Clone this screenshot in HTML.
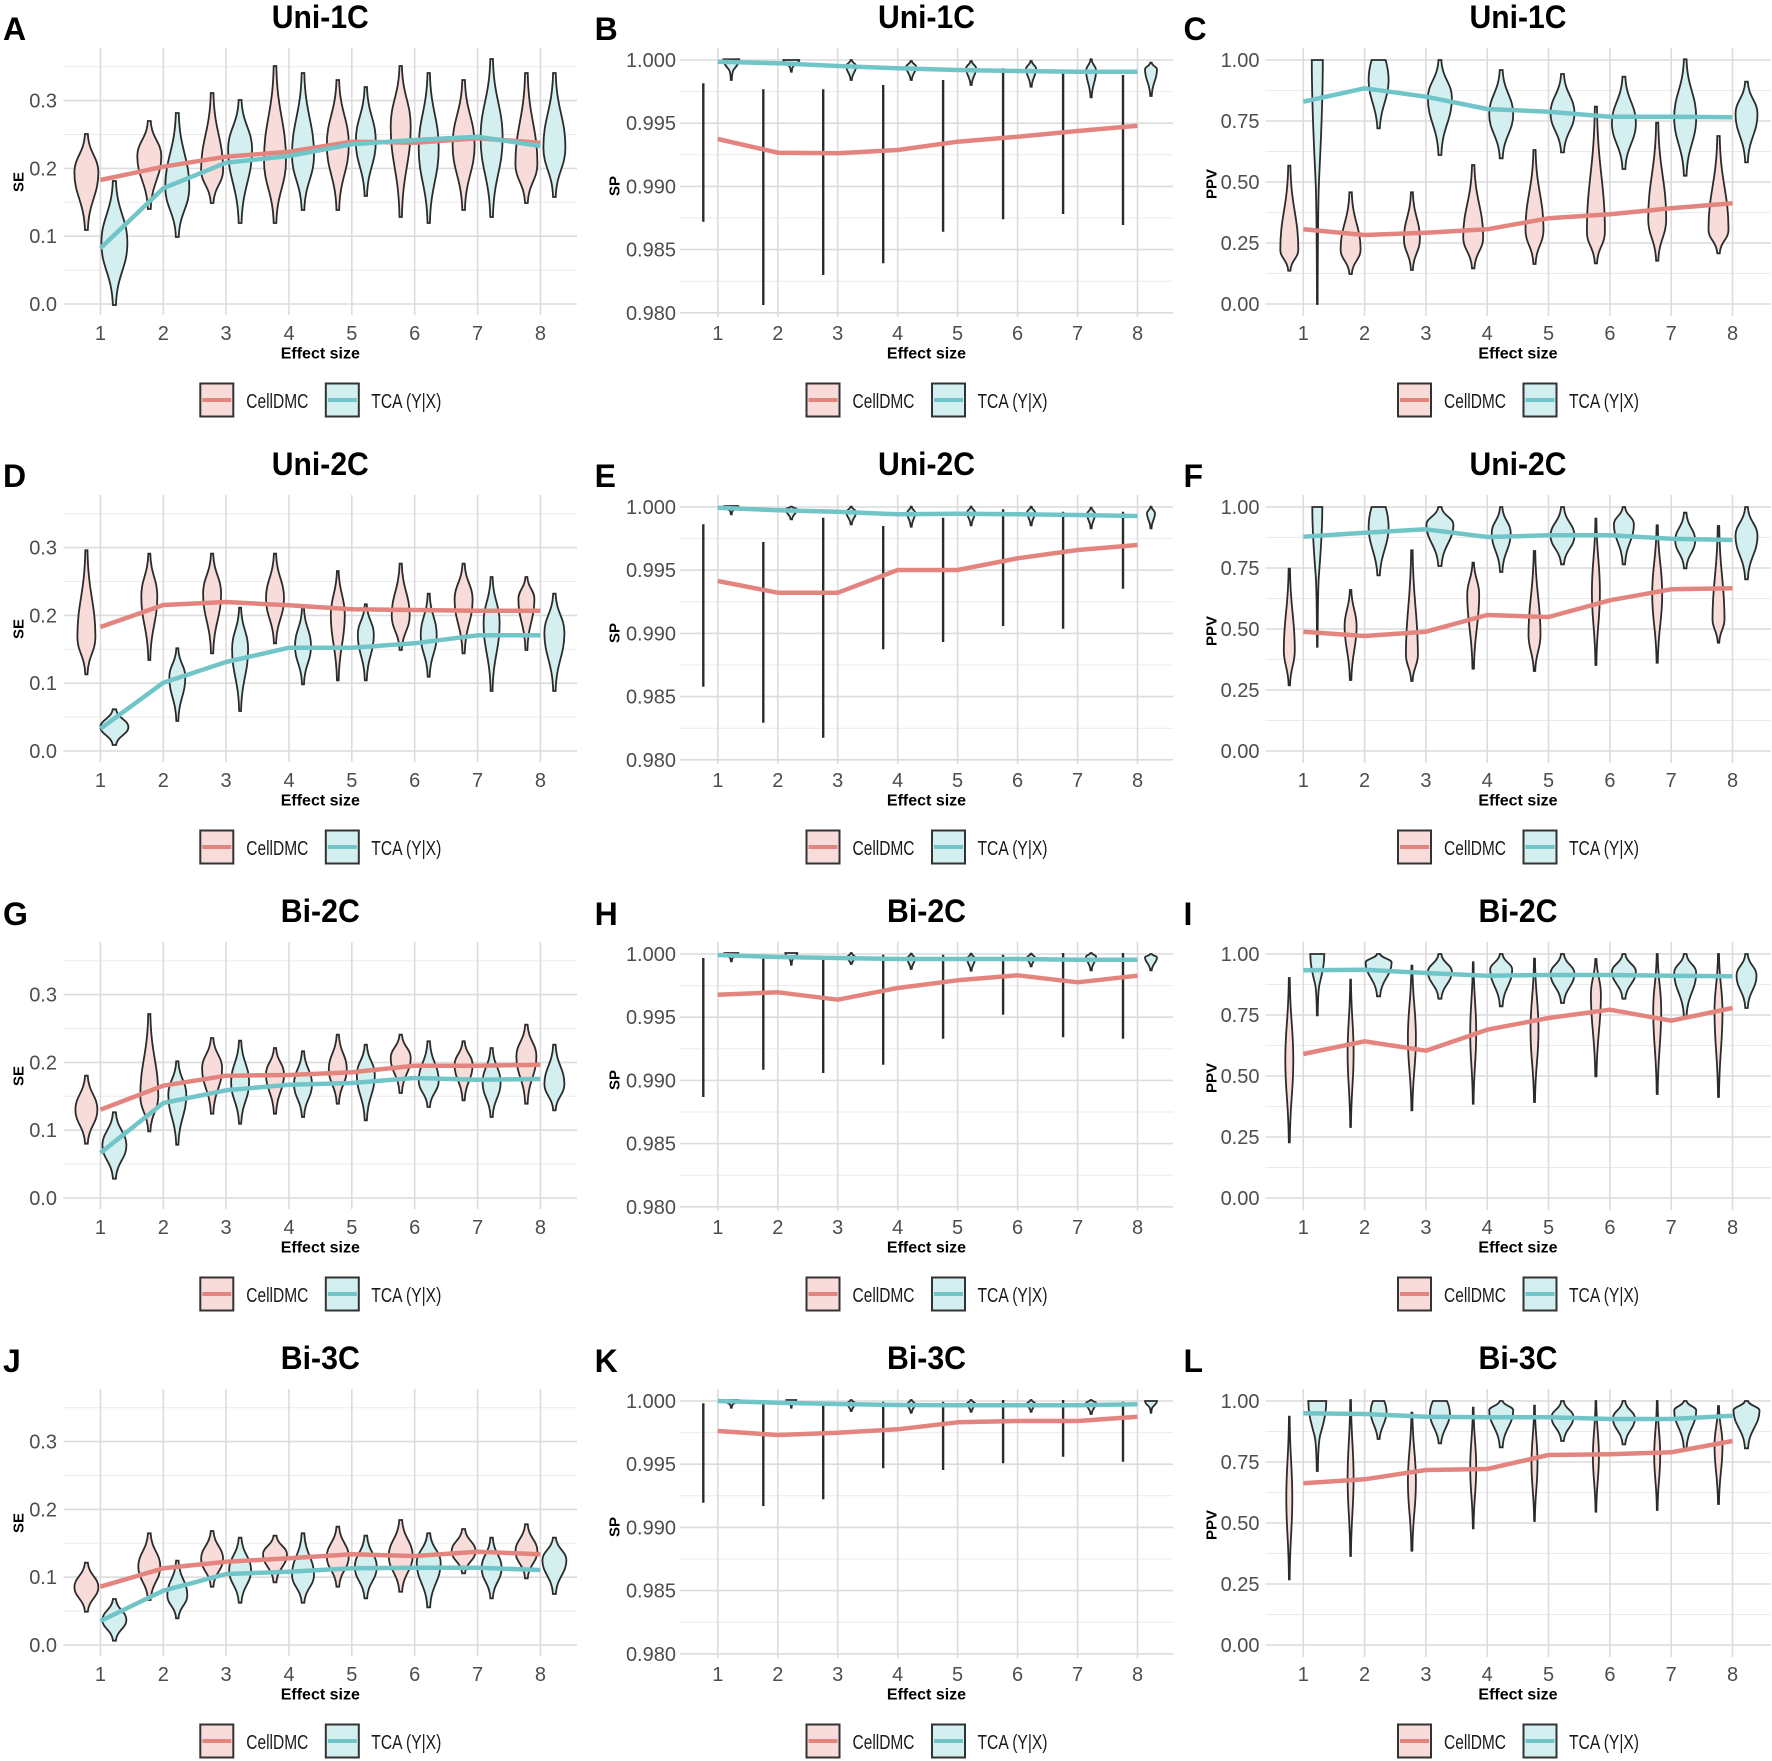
<!DOCTYPE html>
<html><head><meta charset="utf-8"><style>
html,body{margin:0;padding:0;background:#fff}
svg{display:block}
svg text{font-family:"Liberation Sans",Arial,sans-serif}
.mj{stroke:#DCDCDC;stroke-width:1.6;fill:none}
.mn{stroke:#EBEBEB;stroke-width:1;fill:none}
.p{fill:#F8DCDA;stroke:#2B2B2B;stroke-width:1.8}
.c{fill:#D4EFEF;stroke:#2B2B2B;stroke-width:1.8}
.sl{stroke:#2B2B2B;stroke-width:2.4;fill:none}
.lp{fill:none;stroke:#E3857E;stroke-width:4.5;stroke-linejoin:round}
.lc{fill:none;stroke:#71C5C8;stroke-width:4.5;stroke-linejoin:round}
.tk{font-size:20px;fill:#4D4D4D}
.ti{font-size:32px;font-weight:bold;fill:#000}
.lt{font-size:32px;font-weight:bold;fill:#000}
.ax{font-size:15px;font-weight:bold;fill:#000}
.xl{font-size:16px;font-weight:bold;fill:#000}
.lg{font-size:20px;fill:#1A1A1A}
.kp{fill:#F8DCDA;stroke:#333;stroke-width:2}
.kc{fill:#D4EFEF;stroke:#333;stroke-width:2}
.klp{stroke:#E3857E;stroke-width:4;fill:none}
.klc{stroke:#71C5C8;stroke-width:4;fill:none}
</style></head><body>
<svg width="1772" height="1761" viewBox="0 0 1772 1761" xmlns="http://www.w3.org/2000/svg">
<defs>
<path id="s2" vector-effect="non-scaling-stroke" d="M-0.12,0L0.12,0C0.2,0.1 1,0.12 1,0.2C1,0.52 0.2,0.6 0.12,1L-0.12,1C-0.2,0.6 -1,0.52 -1,0.2C-1,0.12 -0.2,0.1 -0.12,0Z"/>
<path id="s3" vector-effect="non-scaling-stroke" d="M-0.12,0L0.12,0C0.2,0.15 1,0.18 1,0.3C1,0.58 0.2,0.65 0.12,1L-0.12,1C-0.2,0.65 -1,0.58 -1,0.3C-1,0.18 -0.2,0.15 -0.12,0Z"/>
<path id="s4" vector-effect="non-scaling-stroke" d="M-0.12,0L0.12,0C0.2,0.2 1,0.24 1,0.4C1,0.64 0.2,0.7 0.12,1L-0.12,1C-0.2,0.7 -1,0.64 -1,0.4C-1,0.24 -0.2,0.2 -0.12,0Z"/>
<path id="s5" vector-effect="non-scaling-stroke" d="M-0.12,0L0.12,0C0.2,0.25 1,0.3 1,0.5C1,0.7 0.2,0.75 0.12,1L-0.12,1C-0.2,0.75 -1,0.7 -1,0.5C-1,0.3 -0.2,0.25 -0.12,0Z"/>
<path id="s6" vector-effect="non-scaling-stroke" d="M-0.12,0L0.12,0C0.2,0.3 1,0.36 1,0.6C1,0.76 0.2,0.8 0.12,1L-0.12,1C-0.2,0.8 -1,0.76 -1,0.6C-1,0.36 -0.2,0.3 -0.12,0Z"/>
<path id="s7" vector-effect="non-scaling-stroke" d="M-0.12,0L0.12,0C0.2,0.35 1,0.42 1,0.7C1,0.82 0.2,0.85 0.12,1L-0.12,1C-0.2,0.85 -1,0.82 -1,0.7C-1,0.42 -0.2,0.35 -0.12,0Z"/>
<path id="s8" vector-effect="non-scaling-stroke" d="M-0.12,0L0.12,0C0.2,0.4 1,0.48 1,0.8C1,0.88 0.2,0.9 0.12,1L-0.12,1C-0.2,0.9 -1,0.88 -1,0.8C-1,0.48 -0.2,0.4 -0.12,0Z"/>
<path id="f" vector-effect="non-scaling-stroke" d="M-1,0L1,0C1,0.2 0.6,0.35 0.3,0.5C0.12,0.6 0.08,0.8 0.06,1L-0.06,1C-0.08,0.8 -0.12,0.6 -0.3,0.5C-0.6,0.35 -1,0.2 -1,0Z"/>
<path id="g" vector-effect="non-scaling-stroke" d="M-0.7,0L0.7,0C0.9,0.1 1,0.2 1,0.3C1,0.55 0.2,0.7 0.12,1L-0.12,1C-0.2,0.7 -1,0.55 -1,0.3C-1,0.2 -0.9,0.1 -0.7,0Z"/>
</defs>
<rect width="1772" height="1761" fill="#fff"/>

<!-- ================= ROW 1 ================= -->
<g transform="translate(0,0)">
<path class="mn" d="M63.6,270.1H577M63.6,202.3H577M63.6,134.5H577M63.6,66.7H577"/>
<path class="mj" d="M63.6,304H577M63.6,236.2H577M63.6,168.4H577M63.6,100.6H577M100.4,48V315M163.3,48V315M226.1,48V315M289,48V315M351.8,48V315M414.7,48V315M477.6,48V315M540.4,48V315"/>
<g class="tk" text-anchor="end"><text x="57" y="311">0.0</text><text x="57" y="243.2">0.1</text><text x="57" y="175.4">0.2</text><text x="57" y="107.6">0.3</text></g>
<g class="tk" text-anchor="middle"><text x="100.4" y="340">1</text><text x="163.3" y="340">2</text><text x="226.1" y="340">3</text><text x="289" y="340">4</text><text x="351.8" y="340">5</text><text x="414.7" y="340">6</text><text x="477.6" y="340">7</text><text x="540.4" y="340">8</text></g>
<text class="ax" text-anchor="middle" transform="translate(23.5,182) rotate(-90)">SE</text>
<text class="xl" x="320.3" y="358.5" text-anchor="middle">Effect size</text>
<text class="ti" x="320.3" y="28" text-anchor="middle" textLength="97" lengthAdjust="spacingAndGlyphs">Uni-1C</text>
<text class="lt" x="3" y="40">A</text>
<rect class="kp" x="200.3" y="383.5" width="33" height="33"/><path class="klp" d="M202.3,400H231.3"/>
<text class="lg" x="246.3" y="408" textLength="62" lengthAdjust="spacingAndGlyphs">CellDMC</text>
<rect class="kc" x="325.8" y="383.5" width="33" height="33"/><path class="klc" d="M327.8,400H356.8"/>
<text class="lg" x="371.3" y="408" textLength="70" lengthAdjust="spacingAndGlyphs">TCA (Y|X)</text>
<path class="mn" d="M680,91.6H1173M680,154.8H1173M680,218H1173M680,281.2H1173"/>
<path class="mj" d="M680,60H1173M680,123.2H1173M680,186.4H1173M680,249.6H1173M680,312.8H1173M717.8,48V317M777.8,48V317M837.7,48V317M897.7,48V317M957.6,48V317M1017.6,48V317M1077.6,48V317M1137.5,48V317"/>
<g class="tk" text-anchor="end"><text x="676" y="67">1.000</text><text x="676" y="130.2">0.995</text><text x="676" y="193.4">0.990</text><text x="676" y="256.6">0.985</text><text x="676" y="319.8">0.980</text></g>
<g class="tk" text-anchor="middle"><text x="717.8" y="340">1</text><text x="777.8" y="340">2</text><text x="837.7" y="340">3</text><text x="897.7" y="340">4</text><text x="957.6" y="340">5</text><text x="1017.6" y="340">6</text><text x="1077.6" y="340">7</text><text x="1137.5" y="340">8</text></g>
<text class="ax" text-anchor="middle" transform="translate(619.5,186) rotate(-90)">SP</text>
<text class="xl" x="926.5" y="358.5" text-anchor="middle">Effect size</text>
<text class="ti" x="926.5" y="28" text-anchor="middle" textLength="97" lengthAdjust="spacingAndGlyphs">Uni-1C</text>
<text class="lt" x="594.6" y="40">B</text>
<rect class="kp" x="806.5" y="383.5" width="33" height="33"/><path class="klp" d="M808.5,400H837.5"/>
<text class="lg" x="852.5" y="408" textLength="62" lengthAdjust="spacingAndGlyphs">CellDMC</text>
<rect class="kc" x="932" y="383.5" width="33" height="33"/><path class="klc" d="M934,400H963"/>
<text class="lg" x="977.5" y="408" textLength="70" lengthAdjust="spacingAndGlyphs">TCA (Y|X)</text>
<path class="mn" d="M1265.5,90.5H1771M1265.5,151.5H1771M1265.5,212.5H1771M1265.5,273.5H1771"/>
<path class="mj" d="M1265.5,60H1771M1265.5,121H1771M1265.5,182H1771M1265.5,243H1771M1265.5,304H1771M1303.3,48V316M1364.6,48V316M1425.9,48V316M1487.2,48V316M1548.5,48V316M1609.9,48V316M1671.2,48V316M1732.5,48V316"/>
<g class="tk" text-anchor="end"><text x="1259.5" y="67">1.00</text><text x="1259.5" y="128">0.75</text><text x="1259.5" y="189">0.50</text><text x="1259.5" y="250">0.25</text><text x="1259.5" y="311">0.00</text></g>
<g class="tk" text-anchor="middle"><text x="1303.3" y="340">1</text><text x="1364.6" y="340">2</text><text x="1425.9" y="340">3</text><text x="1487.2" y="340">4</text><text x="1548.5" y="340">5</text><text x="1609.9" y="340">6</text><text x="1671.2" y="340">7</text><text x="1732.5" y="340">8</text></g>
<text class="ax" text-anchor="middle" transform="translate(1216.5,184) rotate(-90)">PPV</text>
<text class="xl" x="1518" y="358.5" text-anchor="middle">Effect size</text>
<text class="ti" x="1518" y="28" text-anchor="middle" textLength="97" lengthAdjust="spacingAndGlyphs">Uni-1C</text>
<text class="lt" x="1183.5" y="40">C</text>
<rect class="kp" x="1398" y="383.5" width="33" height="33"/><path class="klp" d="M1400,400H1429"/>
<text class="lg" x="1444" y="408" textLength="62" lengthAdjust="spacingAndGlyphs">CellDMC</text>
<rect class="kc" x="1523.5" y="383.5" width="33" height="33"/><path class="klc" d="M1525.5,400H1554.5"/>
<text class="lg" x="1569" y="408" textLength="70" lengthAdjust="spacingAndGlyphs">TCA (Y|X)</text>

<use href="#s4" class="p" transform="translate(86.4,134) scale(12,96)"/>
<use href="#s5" class="c" transform="translate(114.4,181) scale(13,124)"/>
<use href="#s4" class="p" transform="translate(149.3,121) scale(12,88)"/>
<use href="#s6" class="c" transform="translate(177.3,113) scale(12,124)"/>
<use href="#s7" class="p" transform="translate(212.1,93) scale(11,110)"/>
<use href="#s4" class="c" transform="translate(240.1,100) scale(12,123)"/>
<use href="#s6" class="p" transform="translate(275,66) scale(11,157)"/>
<use href="#s6" class="c" transform="translate(303,73) scale(11,137)"/>
<use href="#s5" class="p" transform="translate(337.8,80) scale(11,130)"/>
<use href="#s5" class="c" transform="translate(365.8,87) scale(10,109)"/>
<use href="#s4" class="p" transform="translate(400.7,66) scale(10,151)"/>
<use href="#s5" class="c" transform="translate(428.7,73) scale(10,150)"/>
<use href="#s5" class="p" transform="translate(463.6,80) scale(11,130)"/>
<use href="#s5" class="c" transform="translate(491.6,59) scale(11,158)"/>
<use href="#s7" class="p" transform="translate(526.4,73) scale(11,130)"/>
<use href="#s6" class="c" transform="translate(554.4,73) scale(11,124)"/>
<polyline class="lp" points="100.4,180 163.3,166.7 226.1,156.7 289,151.7 351.8,141.7 414.7,142.7 477.6,138.3 540.4,142.7"/>
<polyline class="lc" points="100.4,248.3 163.3,188.3 226.1,162.7 289,156 351.8,144.3 414.7,140 477.6,136.7 540.4,146"/>
<path class="sl" d="M703.3,83.3V221.7M763.3,89.3V305M823.2,89.3V275M883.2,85V263.3M943.1,80V231.7M1003.1,68.3V219.3M1063.1,71.7V214M1123,75V225"/>
<use href="#f" class="c" transform="translate(731.3,59.3) scale(8,20.7)"/>
<use href="#f" class="c" transform="translate(791.3,60) scale(8,11.7)"/>
<use href="#s3" class="c" transform="translate(851.2,60) scale(5,20)"/>
<use href="#s3" class="c" transform="translate(911.2,61) scale(5,19)"/>
<use href="#s3" class="c" transform="translate(971.1,61) scale(5,24)"/>
<use href="#s3" class="c" transform="translate(1031.1,61) scale(5,25.7)"/>
<use href="#s3" class="c" transform="translate(1091.1,59.3) scale(5,38)"/>
<use href="#s2" class="c" transform="translate(1151,62.7) scale(6,33.3)"/>
<polyline class="lp" points="717.8,139 777.8,152.7 837.7,153.3 897.7,150 957.6,141.7 1017.6,136.7 1077.6,131 1137.5,125.7"/>
<polyline class="lc" points="717.8,61.7 777.8,63.3 837.7,66 897.7,68.3 957.6,70 1017.6,71 1077.6,71.7 1137.5,71.7"/>
<use href="#f" class="c" transform="translate(1317.3,60) scale(5.5,244)"/>
<use href="#g" class="c" transform="translate(1378.6,60) scale(10,68.3)"/>
<use href="#s4" class="c" transform="translate(1439.9,60) scale(12,95)"/>
<use href="#s5" class="c" transform="translate(1501.2,70) scale(12,88.3)"/>
<use href="#s5" class="c" transform="translate(1562.5,74) scale(12,78.3)"/>
<use href="#s5" class="c" transform="translate(1623.9,76.7) scale(12,92.3)"/>
<use href="#s5" class="c" transform="translate(1685.2,59.3) scale(11,116.4)"/>
<use href="#s4" class="c" transform="translate(1746.5,81.7) scale(11,80.6)"/>
<use href="#s8" class="p" transform="translate(1289.3,165.7) scale(9,105)"/>
<use href="#s7" class="p" transform="translate(1350.6,192.3) scale(10,81.7)"/>
<use href="#s6" class="p" transform="translate(1411.9,192.3) scale(8,77.7)"/>
<use href="#s7" class="p" transform="translate(1473.2,165) scale(10,103.3)"/>
<use href="#s7" class="p" transform="translate(1534.5,150) scale(9,114)"/>
<use href="#s8" class="p" transform="translate(1595.9,106.7) scale(9,156.6)"/>
<use href="#s7" class="p" transform="translate(1657.2,122.7) scale(9,138)"/>
<use href="#s8" class="p" transform="translate(1718.5,136) scale(10,117.3)"/>
<polyline class="lp" points="1303.3,229.3 1364.6,235 1425.9,232.7 1487.2,229.3 1548.5,218.3 1609.9,214.3 1671.2,208.3 1732.5,203.3"/>
<polyline class="lc" points="1303.3,101.7 1364.6,88.3 1425.9,96.7 1487.2,109 1548.5,111.7 1609.9,116.7 1671.2,116.7 1732.5,117.3"/>
</g>

<!-- ================= ROW 2 ================= -->
<g transform="translate(0,447)">
<path class="mn" d="M63.6,270.1H577M63.6,202.3H577M63.6,134.5H577M63.6,66.7H577"/>
<path class="mj" d="M63.6,304H577M63.6,236.2H577M63.6,168.4H577M63.6,100.6H577M100.4,48V315M163.3,48V315M226.1,48V315M289,48V315M351.8,48V315M414.7,48V315M477.6,48V315M540.4,48V315"/>
<g class="tk" text-anchor="end"><text x="57" y="311">0.0</text><text x="57" y="243.2">0.1</text><text x="57" y="175.4">0.2</text><text x="57" y="107.6">0.3</text></g>
<g class="tk" text-anchor="middle"><text x="100.4" y="340">1</text><text x="163.3" y="340">2</text><text x="226.1" y="340">3</text><text x="289" y="340">4</text><text x="351.8" y="340">5</text><text x="414.7" y="340">6</text><text x="477.6" y="340">7</text><text x="540.4" y="340">8</text></g>
<text class="ax" text-anchor="middle" transform="translate(23.5,182) rotate(-90)">SE</text>
<text class="xl" x="320.3" y="358.5" text-anchor="middle">Effect size</text>
<text class="ti" x="320.3" y="28" text-anchor="middle" textLength="97" lengthAdjust="spacingAndGlyphs">Uni-2C</text>
<text class="lt" x="3" y="40">D</text>
<rect class="kp" x="200.3" y="383.5" width="33" height="33"/><path class="klp" d="M202.3,400H231.3"/>
<text class="lg" x="246.3" y="408" textLength="62" lengthAdjust="spacingAndGlyphs">CellDMC</text>
<rect class="kc" x="325.8" y="383.5" width="33" height="33"/><path class="klc" d="M327.8,400H356.8"/>
<text class="lg" x="371.3" y="408" textLength="70" lengthAdjust="spacingAndGlyphs">TCA (Y|X)</text>
<path class="mn" d="M680,91.6H1173M680,154.8H1173M680,218H1173M680,281.2H1173"/>
<path class="mj" d="M680,60H1173M680,123.2H1173M680,186.4H1173M680,249.6H1173M680,312.8H1173M717.8,48V317M777.8,48V317M837.7,48V317M897.7,48V317M957.6,48V317M1017.6,48V317M1077.6,48V317M1137.5,48V317"/>
<g class="tk" text-anchor="end"><text x="676" y="67">1.000</text><text x="676" y="130.2">0.995</text><text x="676" y="193.4">0.990</text><text x="676" y="256.6">0.985</text><text x="676" y="319.8">0.980</text></g>
<g class="tk" text-anchor="middle"><text x="717.8" y="340">1</text><text x="777.8" y="340">2</text><text x="837.7" y="340">3</text><text x="897.7" y="340">4</text><text x="957.6" y="340">5</text><text x="1017.6" y="340">6</text><text x="1077.6" y="340">7</text><text x="1137.5" y="340">8</text></g>
<text class="ax" text-anchor="middle" transform="translate(619.5,186) rotate(-90)">SP</text>
<text class="xl" x="926.5" y="358.5" text-anchor="middle">Effect size</text>
<text class="ti" x="926.5" y="28" text-anchor="middle" textLength="97" lengthAdjust="spacingAndGlyphs">Uni-2C</text>
<text class="lt" x="594.6" y="40">E</text>
<rect class="kp" x="806.5" y="383.5" width="33" height="33"/><path class="klp" d="M808.5,400H837.5"/>
<text class="lg" x="852.5" y="408" textLength="62" lengthAdjust="spacingAndGlyphs">CellDMC</text>
<rect class="kc" x="932" y="383.5" width="33" height="33"/><path class="klc" d="M934,400H963"/>
<text class="lg" x="977.5" y="408" textLength="70" lengthAdjust="spacingAndGlyphs">TCA (Y|X)</text>
<path class="mn" d="M1265.5,90.5H1771M1265.5,151.5H1771M1265.5,212.5H1771M1265.5,273.5H1771"/>
<path class="mj" d="M1265.5,60H1771M1265.5,121H1771M1265.5,182H1771M1265.5,243H1771M1265.5,304H1771M1303.3,48V316M1364.6,48V316M1425.9,48V316M1487.2,48V316M1548.5,48V316M1609.9,48V316M1671.2,48V316M1732.5,48V316"/>
<g class="tk" text-anchor="end"><text x="1259.5" y="67">1.00</text><text x="1259.5" y="128">0.75</text><text x="1259.5" y="189">0.50</text><text x="1259.5" y="250">0.25</text><text x="1259.5" y="311">0.00</text></g>
<g class="tk" text-anchor="middle"><text x="1303.3" y="340">1</text><text x="1364.6" y="340">2</text><text x="1425.9" y="340">3</text><text x="1487.2" y="340">4</text><text x="1548.5" y="340">5</text><text x="1609.9" y="340">6</text><text x="1671.2" y="340">7</text><text x="1732.5" y="340">8</text></g>
<text class="ax" text-anchor="middle" transform="translate(1216.5,184) rotate(-90)">PPV</text>
<text class="xl" x="1518" y="358.5" text-anchor="middle">Effect size</text>
<text class="ti" x="1518" y="28" text-anchor="middle" textLength="97" lengthAdjust="spacingAndGlyphs">Uni-2C</text>
<text class="lt" x="1183.5" y="40">F</text>
<rect class="kp" x="1398" y="383.5" width="33" height="33"/><path class="klp" d="M1400,400H1429"/>
<text class="lg" x="1444" y="408" textLength="62" lengthAdjust="spacingAndGlyphs">CellDMC</text>
<rect class="kc" x="1523.5" y="383.5" width="33" height="33"/><path class="klc" d="M1525.5,400H1554.5"/>
<text class="lg" x="1569" y="408" textLength="70" lengthAdjust="spacingAndGlyphs">TCA (Y|X)</text>

<use href="#s7" class="p" transform="translate(86.4,103.3) scale(9,124)"/>
<use href="#s5" class="c" transform="translate(114.4,262.3) scale(14,35.7)"/>
<use href="#s4" class="p" transform="translate(149.3,106.7) scale(8,106.3)"/>
<use href="#s4" class="c" transform="translate(177.3,201.3) scale(8,72.7)"/>
<use href="#s4" class="p" transform="translate(212.1,106.7) scale(9,99.6)"/>
<use href="#s4" class="c" transform="translate(240.1,160.7) scale(8,103.3)"/>
<use href="#s5" class="p" transform="translate(275,106.7) scale(9,89.6)"/>
<use href="#s5" class="c" transform="translate(303,160.7) scale(8,76.6)"/>
<use href="#s4" class="p" transform="translate(337.8,124) scale(7,109.3)"/>
<use href="#s4" class="c" transform="translate(365.8,157.3) scale(8,76)"/>
<use href="#s6" class="p" transform="translate(400.7,116.7) scale(9,86.3)"/>
<use href="#s5" class="c" transform="translate(428.7,146.7) scale(8,83)"/>
<use href="#s4" class="p" transform="translate(463.6,116.7) scale(9,89.6)"/>
<use href="#s4" class="c" transform="translate(491.6,130) scale(8,114)"/>
<use href="#s3" class="p" transform="translate(526.4,130) scale(8,73)"/>
<use href="#s4" class="c" transform="translate(554.4,146.7) scale(10,97.3)"/>
<polyline class="lp" points="100.4,180 163.3,158 226.1,155 289,158.3 351.8,162.3 414.7,163 477.6,163.7 540.4,163.7"/>
<polyline class="lc" points="100.4,281.7 163.3,235.7 226.1,215 289,200.7 351.8,200.7 414.7,196.3 477.6,188.3 540.4,188.3"/>
<path class="sl" d="M703.3,77.3V239.7M763.3,95V275.7M823.2,70.7V290.7M883.2,79V202.3M943.1,70.7V195M1003.1,62.3V179M1063.1,64.7V181.7M1123,64.7V141.7"/>
<use href="#f" class="c" transform="translate(731.3,59) scale(7,8.3)"/>
<use href="#s2" class="c" transform="translate(791.3,59.7) scale(6,12.6)"/>
<use href="#s3" class="c" transform="translate(851.2,59.7) scale(5,17.6)"/>
<use href="#s3" class="c" transform="translate(911.2,59.7) scale(4,20)"/>
<use href="#s3" class="c" transform="translate(971.1,59.7) scale(4,18.6)"/>
<use href="#s3" class="c" transform="translate(1031.1,59.7) scale(4,18.6)"/>
<use href="#s3" class="c" transform="translate(1091.1,60.7) scale(4,20.6)"/>
<use href="#s3" class="c" transform="translate(1151,59.7) scale(4,21.6)"/>
<polyline class="lp" points="717.8,134 777.8,145.7 837.7,145.7 897.7,123 957.6,123 1017.6,111.3 1077.6,103 1137.5,98"/>
<polyline class="lc" points="717.8,60.7 777.8,63.3 837.7,64.7 897.7,67.3 957.6,66.7 1017.6,67.3 1077.6,68 1137.5,69"/>
<use href="#f" class="c" transform="translate(1317.3,60) scale(5,139.7)"/>
<use href="#g" class="c" transform="translate(1378.6,60) scale(10,68.3)"/>
<use href="#s3" class="c" transform="translate(1439.9,60) scale(13.5,59)"/>
<use href="#s4" class="c" transform="translate(1501.2,60) scale(9.5,65)"/>
<use href="#s5" class="c" transform="translate(1562.5,60) scale(12,57.3)"/>
<use href="#s3" class="c" transform="translate(1623.9,60) scale(10,57.3)"/>
<use href="#s5" class="c" transform="translate(1685.2,65.7) scale(10,55.6)"/>
<use href="#s4" class="c" transform="translate(1746.5,60) scale(11,72.3)"/>
<use href="#s7" class="p" transform="translate(1289.3,121.7) scale(5.5,116.6)"/>
<use href="#s4" class="p" transform="translate(1350.6,143) scale(6,90)"/>
<use href="#s8" class="p" transform="translate(1411.9,103.3) scale(6,130.7)"/>
<use href="#s3" class="p" transform="translate(1473.2,115.7) scale(6,106)"/>
<use href="#s7" class="p" transform="translate(1534.5,104) scale(6,120)"/>
<use href="#s5" class="p" transform="translate(1595.9,71.7) scale(4,146.3)"/>
<use href="#s5" class="p" transform="translate(1657.2,78.3) scale(5,137.4)"/>
<use href="#s8" class="p" transform="translate(1718.5,79) scale(6,116.7)"/>
<polyline class="lp" points="1303.3,184.7 1364.6,189 1425.9,184.7 1487.2,168 1548.5,170 1609.9,153.3 1671.2,142.3 1732.5,141.3"/>
<polyline class="lc" points="1303.3,89.7 1364.6,85.7 1425.9,82.3 1487.2,90 1548.5,88.3 1609.9,88.3 1671.2,91.7 1732.5,93"/>
</g>

<!-- ================= ROW 3 ================= -->
<g transform="translate(0,894)">
<path class="mn" d="M63.6,270.1H577M63.6,202.3H577M63.6,134.5H577M63.6,66.7H577"/>
<path class="mj" d="M63.6,304H577M63.6,236.2H577M63.6,168.4H577M63.6,100.6H577M100.4,48V315M163.3,48V315M226.1,48V315M289,48V315M351.8,48V315M414.7,48V315M477.6,48V315M540.4,48V315"/>
<g class="tk" text-anchor="end"><text x="57" y="311">0.0</text><text x="57" y="243.2">0.1</text><text x="57" y="175.4">0.2</text><text x="57" y="107.6">0.3</text></g>
<g class="tk" text-anchor="middle"><text x="100.4" y="340">1</text><text x="163.3" y="340">2</text><text x="226.1" y="340">3</text><text x="289" y="340">4</text><text x="351.8" y="340">5</text><text x="414.7" y="340">6</text><text x="477.6" y="340">7</text><text x="540.4" y="340">8</text></g>
<text class="ax" text-anchor="middle" transform="translate(23.5,182) rotate(-90)">SE</text>
<text class="xl" x="320.3" y="358.5" text-anchor="middle">Effect size</text>
<text class="ti" x="320.3" y="28" text-anchor="middle" textLength="79" lengthAdjust="spacingAndGlyphs">Bi-2C</text>
<text class="lt" x="3" y="31">G</text>
<rect class="kp" x="200.3" y="383.5" width="33" height="33"/><path class="klp" d="M202.3,400H231.3"/>
<text class="lg" x="246.3" y="408" textLength="62" lengthAdjust="spacingAndGlyphs">CellDMC</text>
<rect class="kc" x="325.8" y="383.5" width="33" height="33"/><path class="klc" d="M327.8,400H356.8"/>
<text class="lg" x="371.3" y="408" textLength="70" lengthAdjust="spacingAndGlyphs">TCA (Y|X)</text>
<path class="mn" d="M680,91.6H1173M680,154.8H1173M680,218H1173M680,281.2H1173"/>
<path class="mj" d="M680,60H1173M680,123.2H1173M680,186.4H1173M680,249.6H1173M680,312.8H1173M717.8,48V317M777.8,48V317M837.7,48V317M897.7,48V317M957.6,48V317M1017.6,48V317M1077.6,48V317M1137.5,48V317"/>
<g class="tk" text-anchor="end"><text x="676" y="67">1.000</text><text x="676" y="130.2">0.995</text><text x="676" y="193.4">0.990</text><text x="676" y="256.6">0.985</text><text x="676" y="319.8">0.980</text></g>
<g class="tk" text-anchor="middle"><text x="717.8" y="340">1</text><text x="777.8" y="340">2</text><text x="837.7" y="340">3</text><text x="897.7" y="340">4</text><text x="957.6" y="340">5</text><text x="1017.6" y="340">6</text><text x="1077.6" y="340">7</text><text x="1137.5" y="340">8</text></g>
<text class="ax" text-anchor="middle" transform="translate(619.5,186) rotate(-90)">SP</text>
<text class="xl" x="926.5" y="358.5" text-anchor="middle">Effect size</text>
<text class="ti" x="926.5" y="28" text-anchor="middle" textLength="79" lengthAdjust="spacingAndGlyphs">Bi-2C</text>
<text class="lt" x="594.6" y="31">H</text>
<rect class="kp" x="806.5" y="383.5" width="33" height="33"/><path class="klp" d="M808.5,400H837.5"/>
<text class="lg" x="852.5" y="408" textLength="62" lengthAdjust="spacingAndGlyphs">CellDMC</text>
<rect class="kc" x="932" y="383.5" width="33" height="33"/><path class="klc" d="M934,400H963"/>
<text class="lg" x="977.5" y="408" textLength="70" lengthAdjust="spacingAndGlyphs">TCA (Y|X)</text>
<path class="mn" d="M1265.5,90.5H1771M1265.5,151.5H1771M1265.5,212.5H1771M1265.5,273.5H1771"/>
<path class="mj" d="M1265.5,60H1771M1265.5,121H1771M1265.5,182H1771M1265.5,243H1771M1265.5,304H1771M1303.3,48V316M1364.6,48V316M1425.9,48V316M1487.2,48V316M1548.5,48V316M1609.9,48V316M1671.2,48V316M1732.5,48V316"/>
<g class="tk" text-anchor="end"><text x="1259.5" y="67">1.00</text><text x="1259.5" y="128">0.75</text><text x="1259.5" y="189">0.50</text><text x="1259.5" y="250">0.25</text><text x="1259.5" y="311">0.00</text></g>
<g class="tk" text-anchor="middle"><text x="1303.3" y="340">1</text><text x="1364.6" y="340">2</text><text x="1425.9" y="340">3</text><text x="1487.2" y="340">4</text><text x="1548.5" y="340">5</text><text x="1609.9" y="340">6</text><text x="1671.2" y="340">7</text><text x="1732.5" y="340">8</text></g>
<text class="ax" text-anchor="middle" transform="translate(1216.5,184) rotate(-90)">PPV</text>
<text class="xl" x="1518" y="358.5" text-anchor="middle">Effect size</text>
<text class="ti" x="1518" y="28" text-anchor="middle" textLength="79" lengthAdjust="spacingAndGlyphs">Bi-2C</text>
<text class="lt" x="1183.5" y="31">I</text>
<rect class="kp" x="1398" y="383.5" width="33" height="33"/><path class="klp" d="M1400,400H1429"/>
<text class="lg" x="1444" y="408" textLength="62" lengthAdjust="spacingAndGlyphs">CellDMC</text>
<rect class="kc" x="1523.5" y="383.5" width="33" height="33"/><path class="klc" d="M1525.5,400H1554.5"/>
<text class="lg" x="1569" y="408" textLength="70" lengthAdjust="spacingAndGlyphs">TCA (Y|X)</text>

<use href="#s5" class="p" transform="translate(86.4,181.7) scale(11,68)"/>
<use href="#s5" class="c" transform="translate(114.4,218.3) scale(12,66.4)"/>
<use href="#s7" class="p" transform="translate(149.3,120) scale(9,117.3)"/>
<use href="#s4" class="c" transform="translate(177.3,167.3) scale(9,83.4)"/>
<use href="#s4" class="p" transform="translate(212.1,144) scale(10,75.7)"/>
<use href="#s5" class="c" transform="translate(240.1,146.7) scale(9,83)"/>
<use href="#s4" class="p" transform="translate(275,154) scale(9,65.7)"/>
<use href="#s5" class="c" transform="translate(303,157.3) scale(9,65.7)"/>
<use href="#s5" class="p" transform="translate(337.8,140.7) scale(9,69)"/>
<use href="#s4" class="c" transform="translate(365.8,150.7) scale(9,75.6)"/>
<use href="#s4" class="p" transform="translate(400.7,140.7) scale(10,58.3)"/>
<use href="#s6" class="c" transform="translate(428.7,147.3) scale(10,65.7)"/>
<use href="#s4" class="p" transform="translate(463.6,147.3) scale(9,59)"/>
<use href="#s5" class="c" transform="translate(491.6,154) scale(9,69)"/>
<use href="#s4" class="p" transform="translate(526.4,130.7) scale(10,79)"/>
<use href="#s6" class="c" transform="translate(554.4,150.7) scale(10,65.6)"/>
<polyline class="lp" points="100.4,215.7 163.3,191.7 226.1,181.7 289,181 351.8,178.3 414.7,171.7 477.6,171.7 540.4,170.7"/>
<polyline class="lc" points="100.4,259 163.3,209 226.1,196.3 289,190.7 351.8,189 414.7,184 477.6,185.7 540.4,185"/>
<path class="sl" d="M703.3,64V203M763.3,63V175.7M823.2,62.3V179M883.2,60.7V170.7M943.1,60.7V144.7M1003.1,60.7V120.7M1063.1,59V143.3M1123,59V144.7"/>
<use href="#f" class="c" transform="translate(731.3,59) scale(7,8.3)"/>
<use href="#f" class="c" transform="translate(791.3,59) scale(6,11.7)"/>
<use href="#s4" class="c" transform="translate(851.2,59) scale(4,11)"/>
<use href="#s3" class="c" transform="translate(911.2,59.7) scale(4,15.3)"/>
<use href="#s3" class="c" transform="translate(971.1,59.7) scale(4,17)"/>
<use href="#s3" class="c" transform="translate(1031.1,59.7) scale(4,12.6)"/>
<use href="#s2" class="c" transform="translate(1091.1,59) scale(5,17.3)"/>
<use href="#s2" class="c" transform="translate(1151,60) scale(6,16.3)"/>
<polyline class="lp" points="717.8,100.7 777.8,98.3 837.7,105.7 897.7,94 957.6,86.3 1017.6,81.3 1077.6,88.3 1137.5,81.7"/>
<polyline class="lc" points="717.8,61 777.8,63 837.7,64 897.7,65 957.6,65 1017.6,65 1077.6,65.7 1137.5,65.7"/>
<use href="#f" class="c" transform="translate(1317.3,60) scale(7,61.3)"/>
<use href="#s2" class="c" transform="translate(1378.6,60) scale(13,42.3)"/>
<use href="#s4" class="c" transform="translate(1439.9,60) scale(12,44.7)"/>
<use href="#s3" class="c" transform="translate(1501.2,60) scale(11,52.3)"/>
<use href="#s4" class="c" transform="translate(1562.5,60) scale(12,49)"/>
<use href="#s4" class="c" transform="translate(1623.9,60) scale(12,44.7)"/>
<use href="#s3" class="c" transform="translate(1685.2,60) scale(11,62.3)"/>
<use href="#s4" class="c" transform="translate(1746.5,60) scale(10,54)"/>
<use href="#s5" class="p" transform="translate(1289.3,84) scale(4,164.3)"/>
<use href="#s5" class="p" transform="translate(1350.6,85.7) scale(3,147.3)"/>
<use href="#s5" class="p" transform="translate(1411.9,71.7) scale(4,144.6)"/>
<use href="#s5" class="p" transform="translate(1473.2,68.3) scale(3,141.4)"/>
<use href="#s5" class="p" transform="translate(1534.5,64.7) scale(4,143.3)"/>
<use href="#s3" class="p" transform="translate(1595.9,65) scale(5,117.3)"/>
<use href="#s4" class="p" transform="translate(1657.2,60) scale(4,140)"/>
<use href="#s4" class="p" transform="translate(1718.5,60) scale(4,143)"/>
<polyline class="lp" points="1303.3,160 1364.6,147.3 1425.9,156.7 1487.2,135.7 1548.5,124 1609.9,115.7 1671.2,126.7 1732.5,114"/>
<polyline class="lc" points="1303.3,76.3 1364.6,75.7 1425.9,79 1487.2,81.7 1548.5,81 1609.9,81 1671.2,81.7 1732.5,82.3"/>
</g>

<!-- ================= ROW 4 ================= -->
<g transform="translate(0,1341)">
<path class="mn" d="M63.6,270.1H577M63.6,202.3H577M63.6,134.5H577M63.6,66.7H577"/>
<path class="mj" d="M63.6,304H577M63.6,236.2H577M63.6,168.4H577M63.6,100.6H577M100.4,48V315M163.3,48V315M226.1,48V315M289,48V315M351.8,48V315M414.7,48V315M477.6,48V315M540.4,48V315"/>
<g class="tk" text-anchor="end"><text x="57" y="311">0.0</text><text x="57" y="243.2">0.1</text><text x="57" y="175.4">0.2</text><text x="57" y="107.6">0.3</text></g>
<g class="tk" text-anchor="middle"><text x="100.4" y="340">1</text><text x="163.3" y="340">2</text><text x="226.1" y="340">3</text><text x="289" y="340">4</text><text x="351.8" y="340">5</text><text x="414.7" y="340">6</text><text x="477.6" y="340">7</text><text x="540.4" y="340">8</text></g>
<text class="ax" text-anchor="middle" transform="translate(23.5,182) rotate(-90)">SE</text>
<text class="xl" x="320.3" y="358.5" text-anchor="middle">Effect size</text>
<text class="ti" x="320.3" y="28" text-anchor="middle" textLength="79" lengthAdjust="spacingAndGlyphs">Bi-3C</text>
<text class="lt" x="3" y="31">J</text>
<rect class="kp" x="200.3" y="383.5" width="33" height="33"/><path class="klp" d="M202.3,400H231.3"/>
<text class="lg" x="246.3" y="408" textLength="62" lengthAdjust="spacingAndGlyphs">CellDMC</text>
<rect class="kc" x="325.8" y="383.5" width="33" height="33"/><path class="klc" d="M327.8,400H356.8"/>
<text class="lg" x="371.3" y="408" textLength="70" lengthAdjust="spacingAndGlyphs">TCA (Y|X)</text>
<path class="mn" d="M680,91.6H1173M680,154.8H1173M680,218H1173M680,281.2H1173"/>
<path class="mj" d="M680,60H1173M680,123.2H1173M680,186.4H1173M680,249.6H1173M680,312.8H1173M717.8,48V317M777.8,48V317M837.7,48V317M897.7,48V317M957.6,48V317M1017.6,48V317M1077.6,48V317M1137.5,48V317"/>
<g class="tk" text-anchor="end"><text x="676" y="67">1.000</text><text x="676" y="130.2">0.995</text><text x="676" y="193.4">0.990</text><text x="676" y="256.6">0.985</text><text x="676" y="319.8">0.980</text></g>
<g class="tk" text-anchor="middle"><text x="717.8" y="340">1</text><text x="777.8" y="340">2</text><text x="837.7" y="340">3</text><text x="897.7" y="340">4</text><text x="957.6" y="340">5</text><text x="1017.6" y="340">6</text><text x="1077.6" y="340">7</text><text x="1137.5" y="340">8</text></g>
<text class="ax" text-anchor="middle" transform="translate(619.5,186) rotate(-90)">SP</text>
<text class="xl" x="926.5" y="358.5" text-anchor="middle">Effect size</text>
<text class="ti" x="926.5" y="28" text-anchor="middle" textLength="79" lengthAdjust="spacingAndGlyphs">Bi-3C</text>
<text class="lt" x="594.6" y="31">K</text>
<rect class="kp" x="806.5" y="383.5" width="33" height="33"/><path class="klp" d="M808.5,400H837.5"/>
<text class="lg" x="852.5" y="408" textLength="62" lengthAdjust="spacingAndGlyphs">CellDMC</text>
<rect class="kc" x="932" y="383.5" width="33" height="33"/><path class="klc" d="M934,400H963"/>
<text class="lg" x="977.5" y="408" textLength="70" lengthAdjust="spacingAndGlyphs">TCA (Y|X)</text>
<path class="mn" d="M1265.5,90.5H1771M1265.5,151.5H1771M1265.5,212.5H1771M1265.5,273.5H1771"/>
<path class="mj" d="M1265.5,60H1771M1265.5,121H1771M1265.5,182H1771M1265.5,243H1771M1265.5,304H1771M1303.3,48V316M1364.6,48V316M1425.9,48V316M1487.2,48V316M1548.5,48V316M1609.9,48V316M1671.2,48V316M1732.5,48V316"/>
<g class="tk" text-anchor="end"><text x="1259.5" y="67">1.00</text><text x="1259.5" y="128">0.75</text><text x="1259.5" y="189">0.50</text><text x="1259.5" y="250">0.25</text><text x="1259.5" y="311">0.00</text></g>
<g class="tk" text-anchor="middle"><text x="1303.3" y="340">1</text><text x="1364.6" y="340">2</text><text x="1425.9" y="340">3</text><text x="1487.2" y="340">4</text><text x="1548.5" y="340">5</text><text x="1609.9" y="340">6</text><text x="1671.2" y="340">7</text><text x="1732.5" y="340">8</text></g>
<text class="ax" text-anchor="middle" transform="translate(1216.5,184) rotate(-90)">PPV</text>
<text class="xl" x="1518" y="358.5" text-anchor="middle">Effect size</text>
<text class="ti" x="1518" y="28" text-anchor="middle" textLength="79" lengthAdjust="spacingAndGlyphs">Bi-3C</text>
<text class="lt" x="1183.5" y="31">L</text>
<rect class="kp" x="1398" y="383.5" width="33" height="33"/><path class="klp" d="M1400,400H1429"/>
<text class="lg" x="1444" y="408" textLength="62" lengthAdjust="spacingAndGlyphs">CellDMC</text>
<rect class="kc" x="1523.5" y="383.5" width="33" height="33"/><path class="klc" d="M1525.5,400H1554.5"/>
<text class="lg" x="1569" y="408" textLength="70" lengthAdjust="spacingAndGlyphs">TCA (Y|X)</text>

<use href="#s5" class="p" transform="translate(86.4,221.7) scale(12,49)"/>
<use href="#s5" class="c" transform="translate(114.4,258) scale(12,41.7)"/>
<use href="#s5" class="p" transform="translate(149.3,192.3) scale(11,66.7)"/>
<use href="#s6" class="c" transform="translate(177.3,219.7) scale(10,57.6)"/>
<use href="#s5" class="p" transform="translate(212.1,190) scale(11,55.7)"/>
<use href="#s5" class="c" transform="translate(240.1,196.7) scale(11,65)"/>
<use href="#s4" class="p" transform="translate(275,194.7) scale(12,46.6)"/>
<use href="#s6" class="c" transform="translate(303,192.3) scale(11,69.4)"/>
<use href="#s5" class="p" transform="translate(337.8,185.7) scale(11,60)"/>
<use href="#s5" class="c" transform="translate(365.8,194.7) scale(11,62.6)"/>
<use href="#s5" class="p" transform="translate(400.7,179) scale(12,71.7)"/>
<use href="#s4" class="c" transform="translate(428.7,192.3) scale(12,74)"/>
<use href="#s5" class="p" transform="translate(463.6,188) scale(12,44.3)"/>
<use href="#s5" class="c" transform="translate(491.6,196.7) scale(10,60.6)"/>
<use href="#s5" class="p" transform="translate(526.4,183.3) scale(11,54)"/>
<use href="#s4" class="c" transform="translate(554.4,196.7) scale(12,56.3)"/>
<polyline class="lp" points="100.4,245.7 163.3,227.3 226.1,220.7 289,217.3 351.8,213.3 414.7,215 477.6,210.7 540.4,213.3"/>
<polyline class="lc" points="100.4,280 163.3,249.7 226.1,233 289,230.7 351.8,227.3 414.7,226.7 477.6,226.7 540.4,229"/>
<path class="sl" d="M703.3,62.3V161.7M763.3,59V165M823.2,62.3V158.3M883.2,60.7V127.3M943.1,60.7V129M1003.1,59V122.3M1063.1,59V115.7M1123,60.7V120.7"/>
<use href="#f" class="c" transform="translate(731.3,59) scale(7,7.7)"/>
<use href="#f" class="c" transform="translate(791.3,59) scale(5,7.7)"/>
<use href="#s3" class="c" transform="translate(851.2,59) scale(4,11)"/>
<use href="#s3" class="c" transform="translate(911.2,59) scale(4,12.7)"/>
<use href="#s3" class="c" transform="translate(971.1,59) scale(4,11.7)"/>
<use href="#s3" class="c" transform="translate(1031.1,59) scale(4,11.7)"/>
<use href="#s2" class="c" transform="translate(1091.1,59) scale(5,14)"/>
<use href="#f" class="c" transform="translate(1151,60) scale(6,11.7)"/>
<polyline class="lp" points="717.8,90 777.8,94 837.7,91.7 897.7,88.3 957.6,81.3 1017.6,80 1077.6,80 1137.5,75.7"/>
<polyline class="lc" points="717.8,60 777.8,61.7 837.7,63 897.7,64 957.6,64.3 1017.6,64.3 1077.6,64.3 1137.5,63.3"/>
<use href="#f" class="c" transform="translate(1317.3,60) scale(9,70)"/>
<use href="#g" class="c" transform="translate(1378.6,60) scale(8,38)"/>
<use href="#g" class="c" transform="translate(1439.9,60) scale(10,42.3)"/>
<use href="#s2" class="c" transform="translate(1501.2,60) scale(12,46.3)"/>
<use href="#s4" class="c" transform="translate(1562.5,60) scale(11,40)"/>
<use href="#s4" class="c" transform="translate(1623.9,60) scale(11,43.3)"/>
<use href="#s2" class="c" transform="translate(1685.2,60) scale(11,47.3)"/>
<use href="#s2" class="c" transform="translate(1746.5,60) scale(13,47.3)"/>
<use href="#s5" class="p" transform="translate(1289.3,75.7) scale(3,162.6)"/>
<use href="#s5" class="p" transform="translate(1350.6,59) scale(3,156)"/>
<use href="#s5" class="p" transform="translate(1411.9,71.7) scale(4,138)"/>
<use href="#s5" class="p" transform="translate(1473.2,66.7) scale(3,120.6)"/>
<use href="#s5" class="p" transform="translate(1534.5,64.7) scale(3,115.3)"/>
<use href="#s5" class="p" transform="translate(1595.9,60) scale(3,110.7)"/>
<use href="#s5" class="p" transform="translate(1657.2,60) scale(3,109)"/>
<use href="#s4" class="p" transform="translate(1718.5,65) scale(4,98)"/>
<polyline class="lp" points="1303.3,142.3 1364.6,138.3 1425.9,129 1487.2,128 1548.5,114 1609.9,113.3 1671.2,111.3 1732.5,100"/>
<polyline class="lc" points="1303.3,72.3 1364.6,73 1425.9,75.7 1487.2,76.3 1548.5,76.3 1609.9,78 1671.2,78 1732.5,74.7"/>
</g>
</svg>
</body></html>
